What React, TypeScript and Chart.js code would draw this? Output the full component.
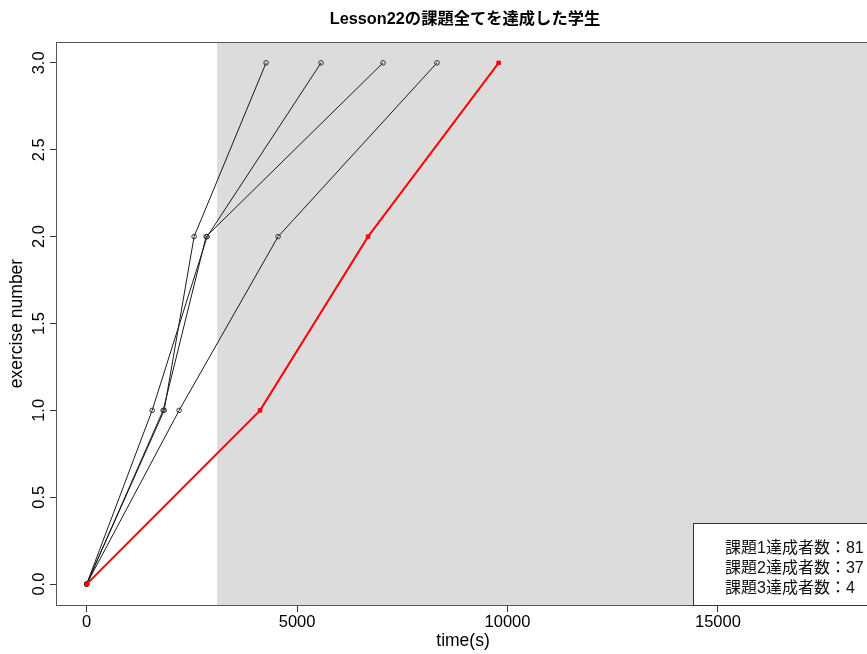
import { useEffect, useRef } from 'react';
import { Chart, registerables } from 'chart.js';

Chart.register(...registerables);

const TITLE = 'Lesson22の課題全てを達成した学生';
const X_TITLE = 'time(s)';
const Y_TITLE = 'exercise number';
const X_TICKS = [0, 5000, 10000, 15000];
const Y_TICKS = [0, 0.5, 1, 1.5, 2, 2.5, 3];
const EXERCISES = [0, 1, 2, 3];
const STUDENT_A = [0, 1841, 2553, 4263];
const STUDENT_B = [0, 1556, 2862, 5569];
const STUDENT_C = [0, 1817, 2838, 7042];
const STUDENT_D = [0, 2197, 4548, 8324];
const HIGHLIGHT = [0, 4121, 6686, 9790];
const SHADE_START = 3100;
const LEGEND_LINES = ['課題1達成者数：81', '課題2達成者数：37', '課題3達成者数：4'];
const X_MIN = -705;
const X_MAX = 18590;
const Y_MIN = -0.12;
const Y_MAX = 3.12;

const FONT = '"Liberation Sans", Arial, "Noto Sans CJK JP", sans-serif';

const W = 880;
const H = 654;

const toPoints = (xs: number[]) => xs.map((x, i) => ({ x, y: EXERCISES[i] }));

const blackSeries = (xs: number[]) => ({
  data: toPoints(xs),
  showLine: true,
  borderColor: '#1a1a1a',
  borderWidth: 1,
  pointStyle: 'circle',
  pointRadius: 2.3,
  pointBorderWidth: 1,
  pointBorderColor: '#333333',
  pointBackgroundColor: 'rgba(0,0,0,0)',
  order: 2,
});

const decor = {
  id: 'decor',
  beforeDatasetsDraw(chart: any) {
    const { ctx, chartArea: a, scales } = chart;
    const x0 = scales.x.getPixelForValue(SHADE_START);
    ctx.save();
    ctx.fillStyle = '#DCDCDC';
    ctx.fillRect(x0, a.top, a.right - x0, a.bottom - a.top);
    ctx.strokeStyle = '#555555';
    ctx.lineWidth = 1;
    ctx.strokeRect(Math.round(a.left) - 0.5, Math.round(a.top) + 0.5, Math.round(a.right - a.left) + 1, Math.round(a.bottom - a.top));
    ctx.restore();
  },
  afterDraw(chart: any) {
    const { ctx, chartArea: a, scales } = chart;
    ctx.save();
    // title
    ctx.fillStyle = '#000';
    ctx.font = `bold 16.3px ${FONT}`;
    ctx.textAlign = 'center';
    ctx.textBaseline = 'middle';
    ctx.fillText(TITLE, (a.left + a.right) / 2 + 2, 20);
    // y tick labels (rotated, R style)
    ctx.font = `16.5px ${FONT}`;
    for (const t of scales.y.ticks) {
      const py = scales.y.getPixelForValue(t.value);
      ctx.save();
      ctx.translate(39, py);
      ctx.rotate(-Math.PI / 2);
      ctx.textAlign = 'center';
      ctx.textBaseline = 'middle';
      ctx.fillText(Number(t.value).toFixed(1), 0, 0);
      ctx.restore();
    }
    // legend
    ctx.font = `16px ${FONT}`;
    const tw = Math.max(...LEGEND_LINES.map((s) => ctx.measureText(s).width));
    const boxH = 82;
    const boxLeft = Math.round(a.right - tw - 5 - 32);
    const boxTop = Math.round(a.bottom - boxH);
    ctx.fillStyle = '#ffffff';
    ctx.fillRect(boxLeft, boxTop, a.right - boxLeft, boxH);
    ctx.strokeStyle = '#333333';
    ctx.lineWidth = 1;
    ctx.strokeRect(boxLeft + 0.5, boxTop + 0.5, a.right - boxLeft, boxH);
    ctx.fillStyle = '#111';
    ctx.textAlign = 'left';
    ctx.textBaseline = 'middle';
    LEGEND_LINES.forEach((s, i) => {
      ctx.fillText(s, boxLeft + 32, boxTop + 26 + i * 20);
    });
    ctx.restore();
  },
};

export default function App() {
  const ref = useRef<HTMLCanvasElement | null>(null);
  useEffect(() => {
    document.body.style.overflow = 'hidden';
    document.documentElement.style.overflow = 'hidden';
    const canvas = ref.current;
    if (!canvas) return;
    const chart = new Chart(canvas, {
      type: 'scatter',
      data: {
        datasets: [
          {
            data: toPoints(HIGHLIGHT),
            showLine: true,
            borderColor: '#ff0000',
            borderWidth: 2,
            pointStyle: 'rect',
            pointRadius: 2.5,
            pointBorderWidth: 1,
            pointBorderColor: '#ff0000',
            pointBackgroundColor: '#ff0000',
            order: 1,
          } as any,
          blackSeries(STUDENT_A) as any,
          blackSeries(STUDENT_B) as any,
          blackSeries(STUDENT_C) as any,
          blackSeries(STUDENT_D) as any,
        ],
      },
      options: {
        animation: false,
        responsive: false,
        devicePixelRatio: 1,
        layout: { padding: { top: 42, right: W - 869, left: 0, bottom: 0 } },
        plugins: {
          legend: { display: false },
          tooltip: { enabled: false },
          title: { display: false },
        },
        scales: {
          x: {
            type: 'linear',
            min: X_MIN,
            max: X_MAX,
            afterBuildTicks: (s: any) => {
              s.ticks = X_TICKS.map((v) => ({ value: v }));
            },
            afterFit: (s: any) => {
              s.height = 49;
            },
            border: { display: false },
            grid: {
              display: true,
              drawOnChartArea: false,
              drawTicks: true,
              tickLength: 7,
              color: '#333333',
            },
            ticks: {
              color: '#000',
              padding: 1,
              maxRotation: 0,
              autoSkip: false,
              font: { family: FONT, size: 16.5 },
              callback: (v: any) => String(v),
            },
            title: {
              display: true,
              text: X_TITLE,
              color: '#000',
              font: { family: FONT, size: 17.5 },
              padding: { top: 0, bottom: 2 },
            },
          },
          y: {
            type: 'linear',
            min: Y_MIN,
            max: Y_MAX,
            afterBuildTicks: (s: any) => {
              s.ticks = Y_TICKS.map((v) => ({ value: v }));
            },
            afterFit: (s: any) => {
              s.width = 57;
            },
            border: { display: false },
            grid: {
              display: true,
              drawOnChartArea: false,
              drawTicks: true,
              tickLength: 7,
              color: '#333333',
            },
            ticks: { display: false },
            title: {
              display: true,
              text: Y_TITLE,
              color: '#000',
              font: { family: FONT, size: 17.5 },
              padding: { top: 7, bottom: 0 },
            },
          },
        },
      } as any,
      plugins: [decor],
    });
    return () => chart.destroy();
  }, []);
  return (
    <div style={{ position: 'fixed', left: 0, top: 0, width: W, height: H, background: '#fff' }}>
      <canvas ref={ref} width={W} height={H} style={{ display: 'block' }} />
    </div>
  );
}
